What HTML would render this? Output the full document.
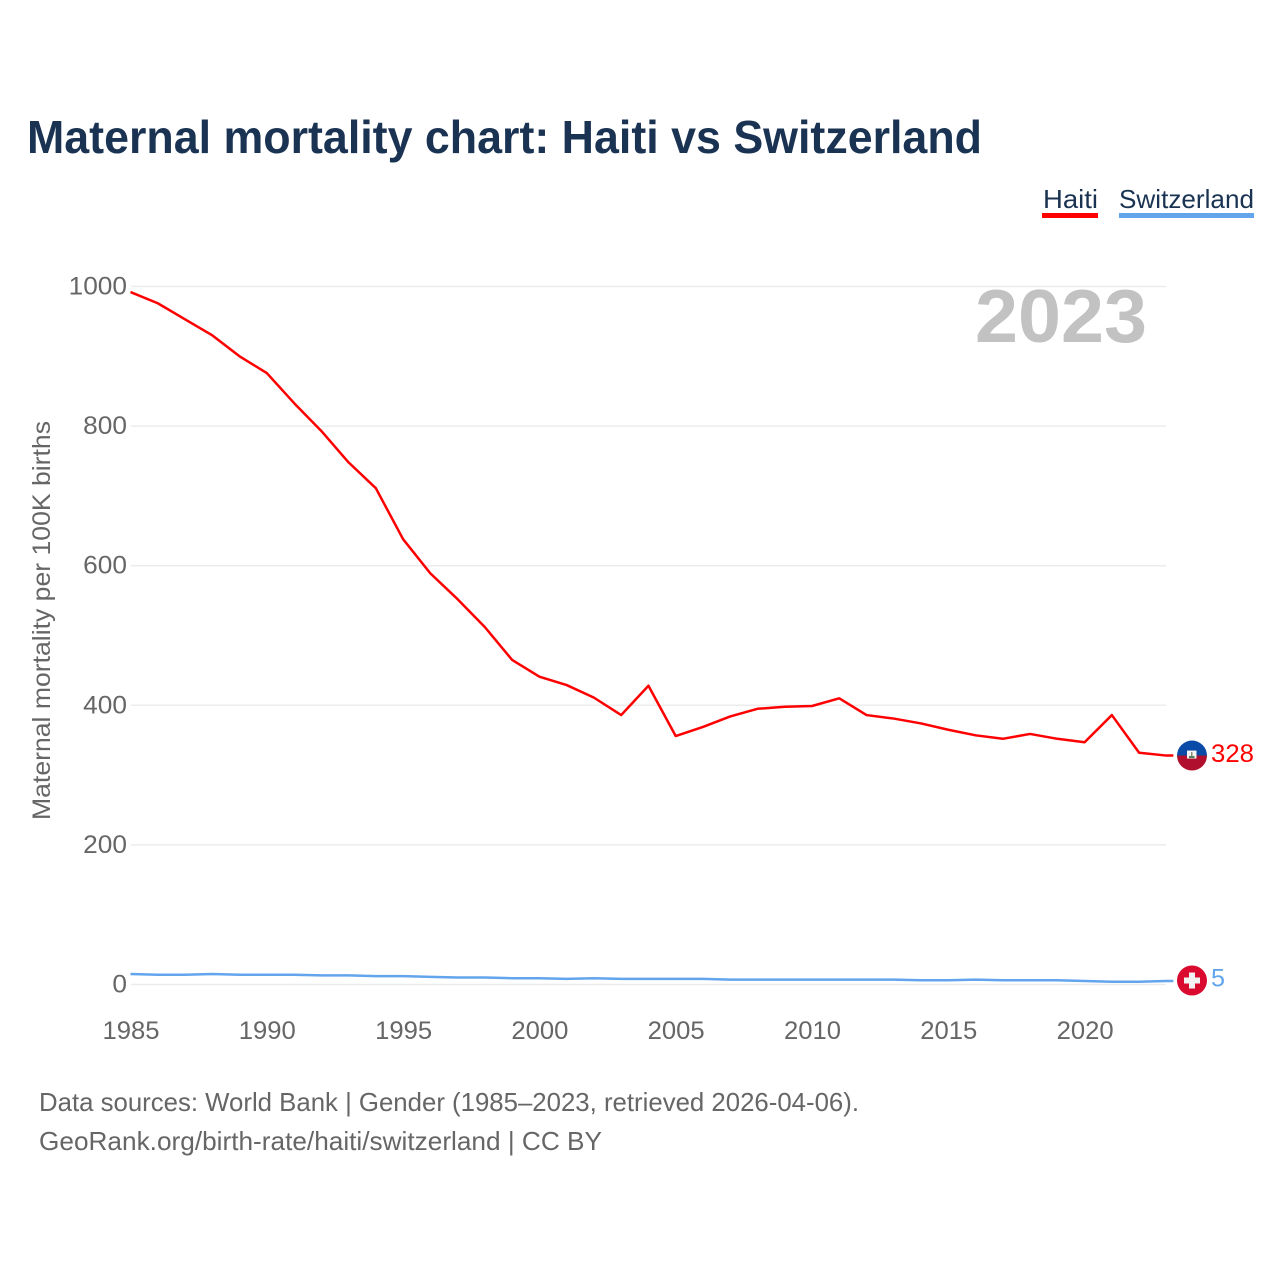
<!DOCTYPE html>
<html lang="en">
<head>
<meta charset="utf-8">
<title>Maternal mortality chart: Haiti vs Switzerland</title>
<style>
html,body{margin:0;padding:0;background:#fff;}
svg{display:block;font-family:"Liberation Sans",sans-serif;}
</style>
</head>
<body>
<svg id="chart" xmlns="http://www.w3.org/2000/svg" width="1280" height="1280" viewBox="0 0 1280 1280">
  <rect width="1280" height="1280" fill="#ffffff"/>
  <text x="27" y="153" font-size="46" font-weight="700" fill="#1a3353" textLength="955" lengthAdjust="spacingAndGlyphs">Maternal mortality chart: Haiti vs Switzerland</text>
  <g>
    <text x="1043" y="208" font-size="26" fill="#1a3353" textLength="55" lengthAdjust="spacingAndGlyphs">Haiti</text>
    <rect x="1042" y="213" width="56" height="5" fill="#ff0000"/>
  </g>
  <g>
    <text x="1119" y="208" font-size="26" fill="#1a3353" textLength="135" lengthAdjust="spacingAndGlyphs">Switzerland</text>
    <rect x="1119" y="213" width="135" height="5" fill="#63a5ec"/>
  </g>
  <text x="1147" y="342" text-anchor="end" font-size="75" font-weight="700" fill="#c2c2c2" textLength="172" lengthAdjust="spacingAndGlyphs">2023</text>
  <g id="grid"></g>
  <g id="y-ticks"></g>
  <g id="x-ticks"></g>
  <text transform="translate(50,820) rotate(-90)" font-size="25" fill="#666666" textLength="399" lengthAdjust="spacingAndGlyphs">Maternal mortality per 100K births</text>
  <g id="series"></g>
  <g id="end-markers"></g>
  <text x="39" y="1111" font-size="26" fill="#666666" textLength="820" lengthAdjust="spacingAndGlyphs">Data sources: World Bank | Gender (1985–2023, retrieved 2026-04-06).</text>
  <text x="39" y="1150" font-size="26" fill="#666666" textLength="563" lengthAdjust="spacingAndGlyphs">GeoRank.org/birth-rate/haiti/switzerland | CC BY</text>
</svg>
<script>
const years = [1985,1986,1987,1988,1989,1990,1991,1992,1993,1994,1995,1996,1997,1998,1999,2000,2001,2002,2003,2004,2005,2006,2007,2008,2009,2010,2011,2012,2013,2014,2015,2016,2017,2018,2019,2020,2021,2022,2023];
const haitiValues = [992,976,953,930,900,876,833,793,748,711,638,589,552,512,465,441,429,411,386,428,356,369,384,395,398,399,410,386,381,374,365,357,352,359,352,347,386,332,328];
const switzerlandValues = [15,14,14,15,14,14,14,13,13,12,12,11,10,10,9,9,8,9,8,8,8,8,7,7,7,7,7,7,7,6,6,7,6,6,6,5,4,4,5];
const yTickValues = [0,200,400,600,800,1000];
const xTickValues = [1985,1990,1995,2000,2005,2010,2015,2020];

const NS = 'http://www.w3.org/2000/svg';
const xScale = function (year) { return 130.5 + (year - 1985) * 27.26; };
const yScale = function (value) { return 984.5 - value * 0.698; };

function make(tag, attrs, parent, text) {
  const el = document.createElementNS(NS, tag);
  Object.keys(attrs).forEach(function (k) { el.setAttribute(k, attrs[k]); });
  if (text !== undefined) el.textContent = text;
  parent.appendChild(el);
  return el;
}

const grid = document.getElementById('grid');
const yTicks = document.getElementById('y-ticks');
yTickValues.forEach(function (v) {
  const line = make('line', { x1: 131, x2: 1166, y1: yScale(v), y2: yScale(v), stroke: '#ececec', 'stroke-width': 1.5 }, grid);
  
  
  const label = make('text', { x: 127, y: yScale(v) + 8, 'text-anchor': 'end', 'font-size': 25, fill: '#666666', textLength: String(v).length * 14.6, lengthAdjust: 'spacingAndGlyphs' }, yTicks, String(v));
  
  
});

const xTicks = document.getElementById('x-ticks');
xTickValues.forEach(function (v) {
  const label = make('text', { x: xScale(v) + 0.5, y: 1039, 'text-anchor': 'middle', 'font-size': 25, fill: '#666666', textLength: 57, lengthAdjust: 'spacingAndGlyphs' }, xTicks, String(v));
  
  
});

const seriesGroup = document.getElementById('series');
function linePath(values) {
  let d = values.map(function (v, i) {
    return (i ? 'L' : 'M') + xScale(years[i]).toFixed(2) + ' ' + yScale(v).toFixed(2);
  }).join(' ');
  const last = values[values.length - 1];
  d += ' L' + (xScale(years[years.length - 1]) + 7).toFixed(2) + ' ' + yScale(last).toFixed(2);
  return d;
}
const switzerlandLine = make('path', { d: linePath(switzerlandValues), fill: 'none', stroke: '#63a5ec', 'stroke-width': 2.5, 'stroke-linejoin': 'round' }, seriesGroup);


const haitiLine = make('path', { d: linePath(haitiValues), fill: 'none', stroke: '#ff0000', 'stroke-width': 2.5, 'stroke-linejoin': 'round' }, seriesGroup);



const markers = document.getElementById('end-markers');
const flagX = 1192;
const haitiLast = haitiValues[haitiValues.length - 1];
const swissLast = switzerlandValues[switzerlandValues.length - 1];
const hy = yScale(haitiLast);
const sy = yScale(swissLast) - 0.5;

const haitiFlag = make('g', {}, markers);


make('path', { d: 'M' + (flagX - 15) + ' ' + hy + ' A15 15 0 0 1 ' + (flagX + 15) + ' ' + hy + ' Z', fill: '#0a4ba8' }, haitiFlag);
make('path', { d: 'M' + (flagX - 15) + ' ' + hy + ' A15 15 0 0 0 ' + (flagX + 15) + ' ' + hy + ' Z', fill: '#b10f2e' }, haitiFlag);
make('rect', { x: flagX - 5, y: hy - 5, width: 9.5, height: 8, fill: '#f4f4f4' }, haitiFlag);
make('rect', { x: flagX - 3, y: hy + 0.5, width: 5.5, height: 2, fill: '#4f7a52' }, haitiFlag);
make('rect', { x: flagX - 1, y: hy - 3.5, width: 1.5, height: 4, fill: '#8a8a7a' }, haitiFlag);

const haitiValue = make('text', { x: 1211, y: hy + 6.5, 'font-size': 25, fill: '#ff0000', textLength: 43, lengthAdjust: 'spacingAndGlyphs' }, markers, String(haitiLast));



const swissFlag = make('g', {}, markers);


make('circle', { cx: flagX, cy: sy, r: 15, fill: '#da0a2e' }, swissFlag);
make('rect', { x: flagX - 8, y: sy - 3, width: 16, height: 6, fill: '#f2f2f2' }, swissFlag);
make('rect', { x: flagX - 3, y: sy - 8, width: 6, height: 16, fill: '#f2f2f2' }, swissFlag);

const swissValue = make('text', { x: 1211, y: sy + 6, 'font-size': 25, fill: '#63a5ec', textLength: 14, lengthAdjust: 'spacingAndGlyphs' }, markers, String(swissLast));


</script>
</body>
</html>
